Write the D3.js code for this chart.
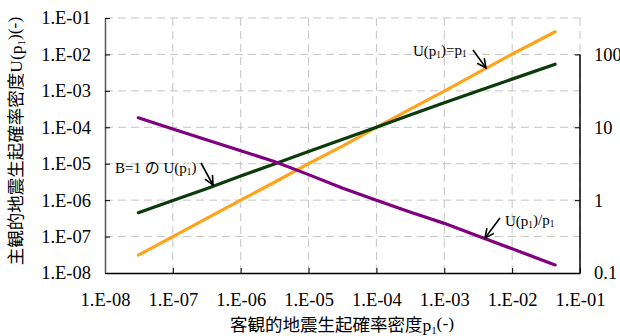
<!DOCTYPE html>
<html>
<head>
<meta charset="utf-8">
<script src="https://cdn.jsdelivr.net/npm/d3@7"></script>
<style>
  body { margin: 0; background: #fff; }
  svg { display: block; }
</style>
</head>
<body>
<div id="chart"></div>
<script>
// values
const p1 = [3.1e-8, 1e-7, 3.2e-7, 1e-6, 3.2e-6, 1e-5, 3.2e-5, 1e-4, 3.2e-4, 1e-3, 3.2e-3, 1e-2, 4.3e-2];
const uEqualP = [3.1e-8, 1e-7, 3.2e-7, 1e-6, 3.15e-6, 1e-5, 3.1e-5, 1e-4, 3.2e-4, 0.98e-3, 3.2e-3, 1.02e-2, 4.2e-2];
const uB1 = [4.5e-7, 9.8e-7, 2.1e-6, 4.6e-6, 1.0e-5, 2.15e-5, 4.7e-5, 1.0e-4, 2.2e-4, 4.7e-4, 1.0e-3, 2.1e-3, 5.4e-3];
const ratio = [13.5, 9.5, 6.7, 4.75, 3.37, 2.24, 1.46, 1.0, 0.68, 0.48, 0.32, 0.215, 0.129];

const xTicks = [1e-8, 1e-7, 1e-6, 1e-5, 1e-4, 1e-3, 1e-2, 1e-1];
const yTicks = [1e-8, 1e-7, 1e-6, 1e-5, 1e-4, 1e-3, 1e-2, 1e-1];
const y2Ticks = [0.1, 1, 10, 100];
const y2TickLabels = ['0.1', '1', '10', '100'];

const width = 620, height = 336;
const mLeft = 105, mRight = 580, mTop = 18, mBottom = 273;
const serif = '"Liberation Serif", "Times New Roman", serif';
const gothic = '"Noto Sans CJK JP", sans-serif';

const svg = d3.select('#chart').append('svg')
    .attr('width', width)
    .attr('height', height);

const x = d3.scaleLog().domain([1e-8, 1e-1]).range([mLeft, mRight]);
const y = d3.scaleLog().domain([1e-8, 1e-1]).range([mBottom, mTop]);
const y2 = d3.scaleLog().domain([0.1, Math.pow(10, 2.5)]).range([mBottom, mTop]);

function sciLabel(v) {
    const e = Math.round(Math.log10(v));
    return '1.E-' + String(-e).padStart(2, '0');
}

// grid
const grid = svg.append('g').attr('stroke', '#c4c4c4').attr('stroke-dasharray', '8,5').attr('stroke-width', 1);
grid.selectAll('line.v').data(xTicks.slice(1)).enter().append('line')
    .attr('x1', d => x(d)).attr('x2', d => x(d))
    .attr('y1', mTop).attr('y2', mBottom);
grid.selectAll('line.h').data(yTicks.slice(1)).enter().append('line')
    .attr('x1', mLeft).attr('x2', mRight)
    .attr('y1', d => y(d)).attr('y2', d => y(d));

// axes
const xAxis = d3.axisBottom(x).tickValues(xTicks).tickSizeInner(-5).tickSizeOuter(0).tickPadding(16).tickFormat(sciLabel);
const yAxis = d3.axisLeft(y).tickValues(yTicks).tickSizeInner(-5).tickSizeOuter(0).tickPadding(14).tickFormat(sciLabel);
const y2Axis = d3.axisRight(y2).tickValues(y2Ticks).tickSizeInner(-5).tickSizeOuter(0).tickPadding(14)
    .tickFormat((d, i) => y2TickLabels[i]);

function styleAxis(g) {
    g.attr('font-family', null).attr('font-size', null);
    g.selectAll('.tick text').style('font-family', serif).style('font-size', '18.5px').attr('fill', '#000');
    g.selectAll('line').attr('stroke', '#000');
    g.select('.domain').attr('stroke', '#000').attr('stroke-width', 1.5);
}

svg.append('g').attr('transform', `translate(0,${mBottom})`).call(xAxis).call(styleAxis)
    .selectAll('.tick text').attr('dy', '0.9em');
svg.append('g').attr('transform', `translate(${mLeft},0)`).call(yAxis).call(styleAxis)
    .select('.domain').attr('stroke', '#555');
const g2 = svg.append('g').attr('transform', `translate(${mRight},0)`).call(y2Axis).call(styleAxis);
g2.select('.domain').remove();
g2.append('line').attr('x1', 0).attr('x2', 0).attr('y1', y2(100)).attr('y2', mBottom)
    .attr('stroke', '#000').attr('stroke-width', 1.5);

// series
const lineY = d3.line().x((d, i) => x(p1[i])).y(d => y(d));
const lineY2 = d3.line().x((d, i) => x(p1[i])).y(d => y2(d));

svg.append('path').datum(uEqualP).attr('d', lineY)
    .attr('fill', 'none').attr('stroke', '#ffa31a').attr('stroke-width', 3.2).attr('stroke-linecap', 'round');
svg.append('path').datum(uB1).attr('d', lineY)
    .attr('fill', 'none').attr('stroke', '#0b3a0b').attr('stroke-width', 3.2).attr('stroke-linecap', 'round');
svg.append('path').datum(ratio).attr('d', lineY2)
    .attr('fill', 'none').attr('stroke', '#800080').attr('stroke-width', 3.2).attr('stroke-linecap', 'round');

// annotations
function subText(sel, parts) {
    parts.forEach(p => {
        const t = sel.append('tspan').text(p.t).style('font-family', p.jp ? gothic : serif);
        if (p.sub) t.attr('font-size', '0.62em').attr('dy', '0.25em');
        if (p.up) t.attr('dy', '-0.25em');
    });
}

function arrow(x1, y1, x2, y2) {
    const a = Math.atan2(y2 - y1, x2 - x1), h = 10, w = 0.45;
    const g = svg.append('g').attr('stroke', '#000').attr('stroke-width', 1.6).attr('fill', 'none');
    g.append('line').attr('x1', x1).attr('y1', y1).attr('x2', x2).attr('y2', y2);
    g.append('path').attr('d', `M${x2 - h * Math.cos(a - w)},${y2 - h * Math.sin(a - w)}L${x2},${y2}L${x2 - h * Math.cos(a + w)},${y2 - h * Math.sin(a + w)}`);
}

const ann = svg.append('g').attr('font-size', 15).attr('fill', '#000');

const t1 = ann.append('text').attr('x', 413).attr('y', 56);
subText(t1, [{t: 'U(p'}, {t: '1', sub: true}, {t: ')=p', up: true}, {t: '1', sub: true}]);
arrow(473, 50, 486, 68);

const t2 = ann.append('text').attr('x', 115).attr('y', 173);
subText(t2, [{t: 'B=1 '}, {t: 'の', jp: true}, {t: ' U(p'}, {t: '1', sub: true}, {t: ')', up: true}]);
arrow(201, 163, 213, 185);

const t3 = ann.append('text').attr('x', 505).attr('y', 226);
subText(t3, [{t: 'U(p'}, {t: '1', sub: true}, {t: ')/p', up: true}, {t: '1', sub: true}]);
arrow(500, 218, 485, 238);

// axis titles
const xt = svg.append('text').attr('x', 342).attr('y', 331).attr('text-anchor', 'middle').attr('font-size', 17.5);
subText(xt, [{t: '客観的地震生起確率密度', jp: true}, {t: 'p'}, {t: '1', sub: true}, {t: '(-)', up: true}]);

const yt = svg.append('text').attr('transform', 'translate(22,141) rotate(-90)').attr('text-anchor', 'middle').attr('font-size', 17.5);
subText(yt, [{t: '主観的地震生起確率密度', jp: true}, {t: 'U(p'}, {t: '1', sub: true}, {t: ')(-)', up: true}]);

// right-hand title, mostly outside the frame as in the source picture
const y2t = svg.append('text').attr('transform', 'translate(624,163) rotate(90)').attr('text-anchor', 'middle').attr('font-size', 17.5);
subText(y2t, [{t: 'U(p'}, {t: '1', sub: true}, {t: ')/p', up: true}, {t: '1', sub: true}]);
</script>
</body>
</html>
